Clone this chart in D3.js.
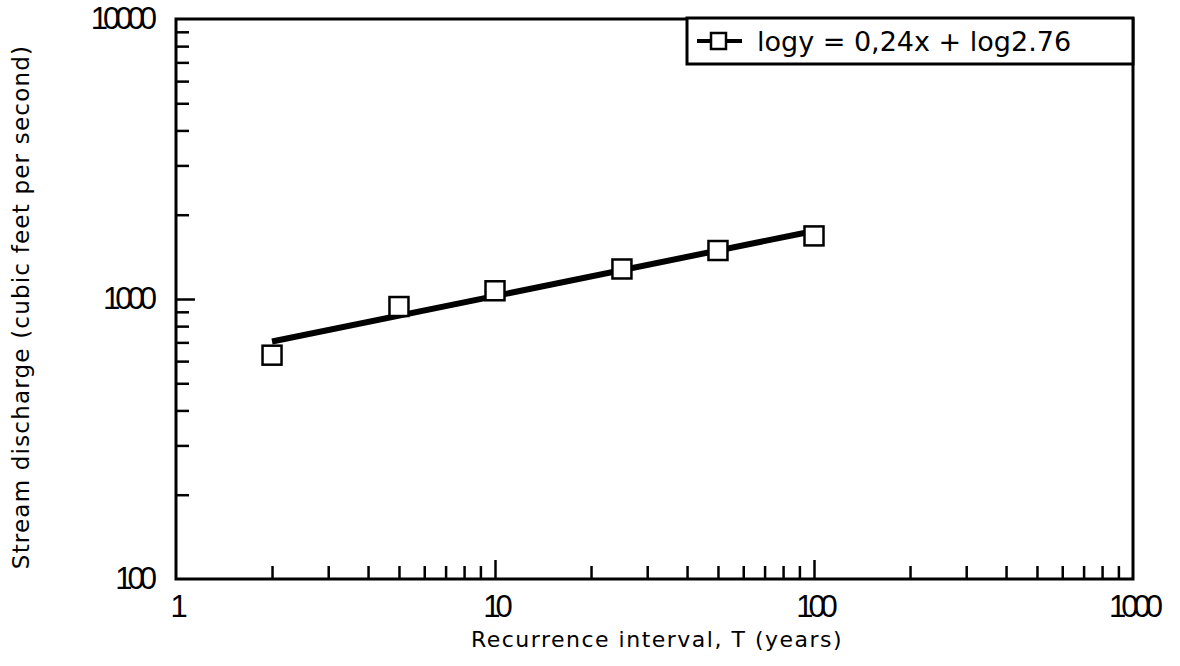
<!DOCTYPE html>
<html>
<head>
<meta charset="utf-8">
<script src="https://cdn.jsdelivr.net/npm/d3@7"></script>
<style>
  body { margin: 0; background: #fff; }
  text { fill: #000; }
</style>
</head>
<body>
<svg id="chart" width="1180" height="666"></svg>
<script>
// Recurrence interval (years) and stream discharge (cfs)
const intervals = [2, 5, 10, 25, 50, 100];
const discharge = [630, 940, 1070, 1280, 1490, 1680];
// ends of the fitted line
const fitT = [2, 100];
const fitQ = [705, 1750];
const xLabels = [1, 10, 100, 1000];
const yLabels = [100, 1000, 10000];
const legendText = 'logy = 0,24x + log2.76';

const svg = d3.select('#chart');
const mLeft = 176, mRight = 1133, mTop = 19, mBottom = 579;

const x = d3.scaleLog().domain([1, 1000]).range([mLeft, mRight]);
const y = d3.scaleLog().domain([100, 10000]).range([mBottom, mTop]);

const labelFont = '"Liberation Sans Narrow", "Liberation Sans", sans-serif';
const titleFont = '"DejaVu Sans", sans-serif';

// minor ticks: 2..9 in each decade
const minor = (lo, hi) => {
  let out = [];
  for (let d = lo; d < hi; d *= 10) {
    for (let k = 2; k <= 9; k++) out.push(d * k);
  }
  return out;
};

// x axis ticks (inside the frame)
svg.append('g')
  .attr('transform', 'translate(0,' + mBottom + ')')
  .call(d3.axisBottom(x).tickValues(minor(1, 1000)).tickSize(-13).tickFormat(''))
  .call(g => g.select('.domain').remove())
  .selectAll('line').attr('stroke-width', 2.5);

svg.append('g')
  .attr('transform', 'translate(0,' + mBottom + ')')
  .call(d3.axisBottom(x).tickValues([10, 100]).tickSize(-19).tickFormat(''))
  .call(g => g.select('.domain').remove())
  .selectAll('line').attr('stroke-width', 2.5);

// x labels
svg.append('g')
  .attr('transform', 'translate(0,' + mBottom + ')')
  .call(d3.axisBottom(x).tickValues(xLabels).tickSize(0).tickPadding(16).tickFormat(d3.format('d')))
  .call(g => g.select('.domain').remove())
  .selectAll('text')
  .attr('font-family', labelFont)
  .attr('font-size', 31)
  .attr('letter-spacing', -5);

// y axis ticks
svg.append('g')
  .attr('transform', 'translate(' + mLeft + ',0)')
  .call(d3.axisLeft(y).tickValues(minor(100, 10000)).tickSize(-13).tickFormat(''))
  .call(g => g.select('.domain').remove())
  .selectAll('line').attr('stroke-width', 2.5);

svg.append('g')
  .attr('transform', 'translate(' + mLeft + ',0)')
  .call(d3.axisLeft(y).tickValues([1000]).tickSize(-19).tickFormat(''))
  .call(g => g.select('.domain').remove())
  .selectAll('line').attr('stroke-width', 2.5);

// y labels
svg.append('g')
  .attr('transform', 'translate(' + mLeft + ',0)')
  .call(d3.axisLeft(y).tickValues(yLabels).tickSize(0).tickPadding(24).tickFormat(d3.format('d')))
  .call(g => g.select('.domain').remove())
  .selectAll('text')
  .attr('font-family', labelFont)
  .attr('font-size', 31)
  .attr('letter-spacing', -5);

// frame
svg.append('rect')
  .attr('x', mLeft).attr('y', mTop)
  .attr('width', mRight - mLeft).attr('height', mBottom - mTop)
  .attr('fill', 'none').attr('stroke', '#000').attr('stroke-width', 3);

// fitted line
const line = d3.line().x(d => x(d[0])).y(d => y(d[1]));
svg.append('path')
  .datum(d3.zip(fitT, fitQ))
  .attr('d', line)
  .attr('fill', 'none')
  .attr('stroke', '#000')
  .attr('stroke-width', 6);

// observed points
const sq = 19;
svg.append('g')
  .selectAll('rect')
  .data(d3.zip(intervals, discharge))
  .join('rect')
  .attr('x', d => x(d[0]) - sq / 2)
  .attr('y', d => y(d[1]) - sq / 2)
  .attr('width', sq).attr('height', sq)
  .attr('fill', '#fff')
  .attr('stroke', '#000')
  .attr('stroke-width', 2.5);

// legend
const lg = svg.append('g');
lg.append('rect')
  .attr('x', 687).attr('y', 18)
  .attr('width', mRight - 687).attr('height', 46)
  .attr('fill', '#fff').attr('stroke', '#000').attr('stroke-width', 3);
lg.append('line')
  .attr('x1', 697).attr('x2', 742).attr('y1', 41).attr('y2', 41)
  .attr('stroke', '#000').attr('stroke-width', 4);
lg.append('rect')
  .attr('x', 711).attr('y', 33).attr('width', 15).attr('height', 16)
  .attr('fill', '#fff').attr('stroke', '#000').attr('stroke-width', 2.5);
lg.append('text')
  .attr('x', 757).attr('y', 51)
  .attr('font-family', titleFont)
  .attr('font-size', 27)
  .text(legendText);

// axis titles
svg.append('text')
  .attr('x', 657).attr('y', 647)
  .attr('text-anchor', 'middle')
  .attr('font-family', titleFont)
  .attr('font-size', 22)
  .attr('letter-spacing', 1.5)
  .text('Recurrence interval, T (years)');

svg.append('text')
  .attr('transform', 'translate(29,307) rotate(-90)')
  .attr('text-anchor', 'middle')
  .attr('font-family', titleFont)
  .attr('font-size', 23)
  .attr('letter-spacing', 1.2)
  .text('Stream discharge (cubic feet per second)');
</script>
</body>
</html>
